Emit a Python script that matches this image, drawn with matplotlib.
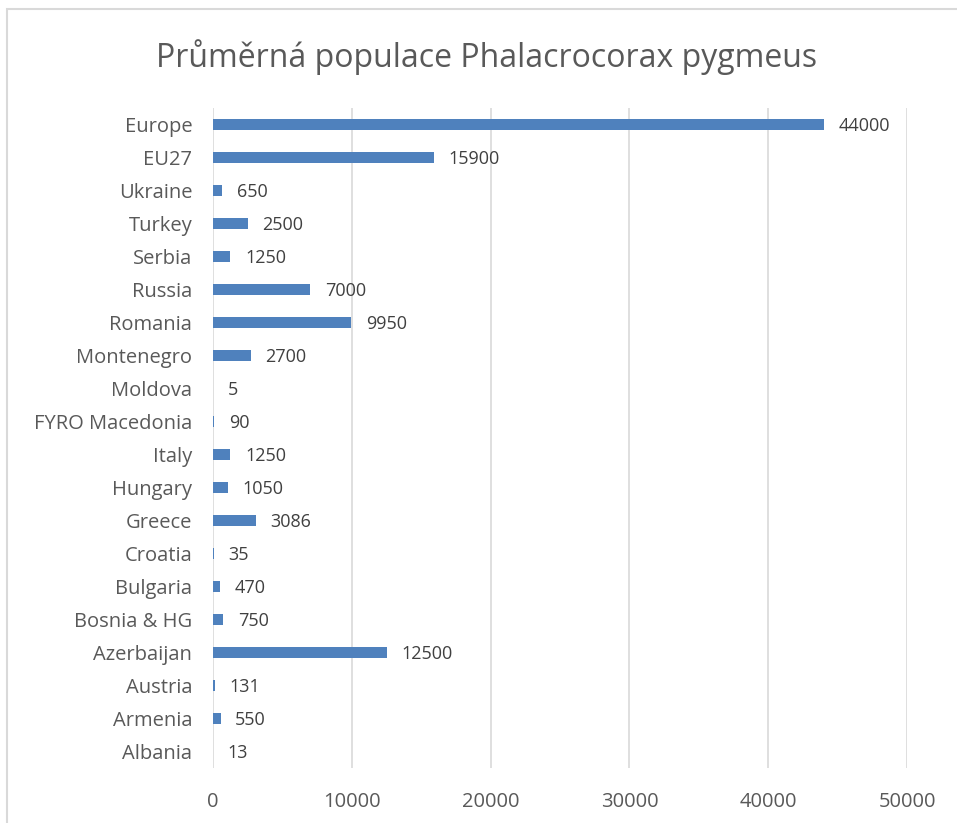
import matplotlib.pyplot as plt
from matplotlib.patches import Rectangle

# data (bottom to top)
countries = ['Albania', 'Armenia', 'Austria', 'Azerbaijan', 'Bosnia & HG', 'Bulgaria',
             'Croatia', 'Greece', 'Hungary', 'Italy', 'FYRO Macedonia', 'Moldova',
             'Montenegro', 'Romania', 'Russia', 'Serbia', 'Turkey', 'Ukraine', 'EU27', 'Europe']
population = [13, 550, 131, 12500, 750, 470, 35, 3086, 1050, 1250, 90, 5,
              2700, 9950, 7000, 1250, 2500, 650, 15900, 44000]
xticks = [0, 10000, 20000, 30000, 40000, 50000]

plt.rcParams['font.family'] = ['Open Sans', 'DejaVu Sans']
grey = '#595959'

fig = plt.figure(figsize=(9.57, 8.23), dpi=100)
ax = fig.add_axes([0.2226, 0.0668, 0.7252, 0.802])

pos = range(len(countries))
ax.barh(pos, population, height=0.36, color='#4F81BD', zorder=3)
for i, v in enumerate(population):
    ax.text(v + 1050, i - 0.04, str(v), va='center', ha='left', fontsize=13, color='#404040')

ax.set_xlim(0, 50000)
ax.set_ylim(-0.5, len(countries) - 0.5)
ax.set_xticks(xticks)
ax.set_yticks(list(pos))
ax.set_yticklabels(countries)
ax.tick_params(axis='both', length=0, colors=grey, labelsize=14.5)
ax.tick_params(axis='x', pad=17)
ax.tick_params(axis='y', pad=15)
ax.grid(axis='x', color='#D9D9D9', linewidth=1.2, zorder=0)
for s in ax.spines.values():
    s.set_visible(False)

fig.text(0.508, 0.931, 'Průměrná populace Phalacrocorax pygmeus', ha='center', va='center',
         fontsize=23, color=grey)

fig.patches.append(Rectangle((7 / 957, -0.05), 1.0, 1 - 9 / 823 + 0.05, transform=fig.transFigure,
                             fill=False, edgecolor='#D9D9D9', linewidth=1.5))

fig.savefig('out.png', dpi=100)
